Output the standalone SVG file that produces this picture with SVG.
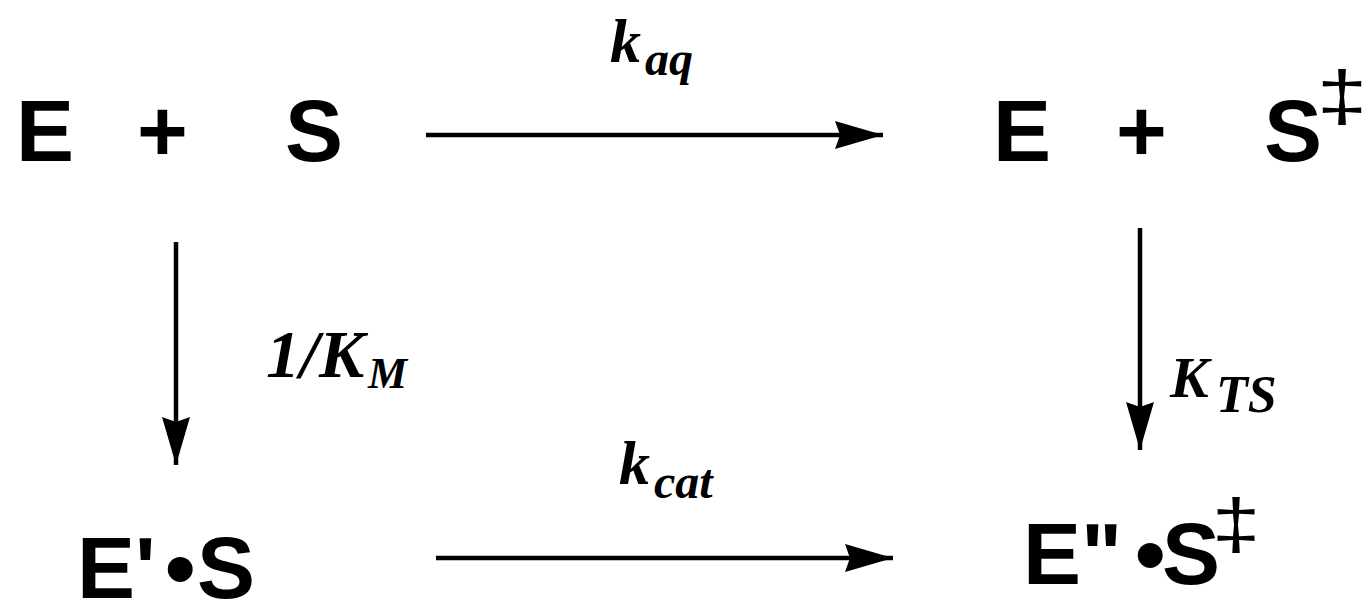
<svg xmlns="http://www.w3.org/2000/svg" width="1363" height="601" viewBox="0 0 1363 601">
<style>
.m{font-family:"Liberation Sans",Arial,sans-serif;font-weight:bold;font-size:87px;fill:#000}
.d{font-family:"Liberation Sans",Arial,sans-serif;font-size:70px;fill:#000;text-anchor:middle}
.l{font-family:"Liberation Serif","Times New Roman",serif;font-weight:bold;font-style:italic;fill:#000}
.c{stroke:#000;stroke-width:4.5;fill:none}
</style>
<defs>
<marker id="ah" markerUnits="userSpaceOnUse" markerWidth="50" markerHeight="30" viewBox="0 0 50 28" refX="48" refY="14" orient="auto">
<path d="M0,0 L48,14 L0,28 L5,14 Z" fill="#000"/>
</marker>
</defs>
<g id="connectors">
<line class="c" x1="426" y1="135" x2="883" y2="135" marker-end="url(#ah)"/>
<line class="c" x1="436" y1="558" x2="893" y2="558" marker-end="url(#ah)"/>
<line class="c" x1="176" y1="242" x2="176" y2="465" marker-end="url(#ah)"/>
<line class="c" x1="1140" y1="228" x2="1140" y2="450" marker-end="url(#ah)"/>
</g>
<g id="node-ES">
<text class="m" x="16" y="161">E</text>
<text class="m" x="137" y="161">+</text>
<text class="m" x="285" y="161">S</text>
</g>
<g id="node-ESts">
<text class="m" x="993" y="161">E</text>
<text class="m" x="1116" y="161">+</text>
<text class="m" x="1264" y="161">S</text>
<text class="d" transform="translate(1342,120) scale(1.3,1)" x="0" y="0">‡</text>
</g>
<g id="node-EpS">
<text class="m" x="77" y="598">E'</text>
<text class="m" x="165" y="598">•</text>
<text class="m" x="197" y="598">S</text>
</g>
<g id="node-EppSts">
<text class="m" x="1023" y="584">E"</text>
<text class="m" x="1135" y="584">•</text>
<text class="m" x="1162" y="584">S</text>
<text class="d" transform="translate(1236,548) scale(1.25,1)" x="0" y="0">‡</text>
</g>
<g id="labels">
<text class="l" x="610" y="62" font-size="62">k<tspan x="645" y="75" font-size="48">aq</tspan></text>
<text class="l" x="619" y="484" font-size="62">k<tspan x="654" y="498" font-size="48">cat</tspan></text>
<text class="l" x="266" y="377" font-size="68">1/K<tspan x="368" y="388" font-size="44">M</tspan></text>
<text class="l" x="1170" y="397" font-size="58">K<tspan x="1216" y="412" font-size="52">TS</tspan></text>
</g>
</svg>
